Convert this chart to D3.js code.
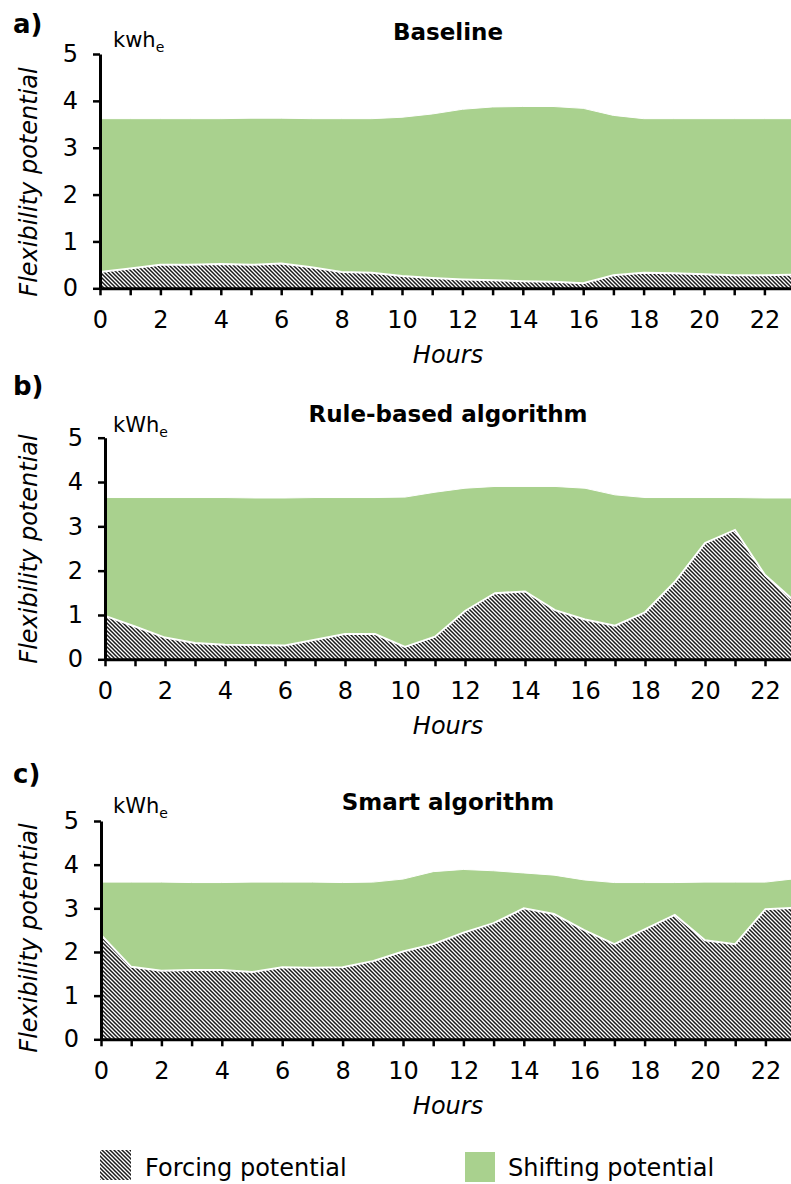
<!DOCTYPE html>
<html>
<head>
<meta charset="utf-8">
<script src="https://cdn.jsdelivr.net/npm/d3@7"></script>
<style>
  body { margin: 0; background: #fff; }
  svg { display: block; font-family: "DejaVu Sans", Verdana, sans-serif; }
  .axis path, .axis line { stroke: #000; }
  .axis path { stroke-width: 3; }
  .axis line { stroke-width: 2.5; }
  .axis text { font-size: 24px; fill: #000; font-family: "DejaVu Sans", Verdana, sans-serif; }
</style>
</head>
<body>
<div id="chart"></div>
<script>
// hours of the day (x categories)
var hours = [0,1,2,3,4,5,6,7,8,9,10,11,12,13,14,15,16,17,18,19,20,21,22,23];
var yTicks = [0,1,2,3,4,5];

// baseline
var baselineForcing  = [0.35,0.42,0.50,0.50,0.52,0.50,0.53,0.45,0.35,0.33,0.26,0.22,0.19,0.17,0.15,0.14,0.11,0.28,0.33,0.32,0.30,0.28,0.28,0.29];
var baselineShifting = [3.27,3.20,3.12,3.12,3.10,3.13,3.10,3.17,3.27,3.29,3.39,3.50,3.63,3.70,3.73,3.74,3.73,3.41,3.29,3.30,3.32,3.34,3.34,3.33];

// rule-based algorithm
var ruleForcing  = [0.98,0.74,0.49,0.37,0.33,0.32,0.31,0.44,0.57,0.57,0.28,0.51,1.09,1.49,1.53,1.11,0.90,0.76,1.06,1.75,2.62,2.92,1.90,1.30];
var ruleShifting = [2.67,2.91,3.16,3.28,3.32,3.32,3.33,3.21,3.08,3.08,3.38,3.26,2.77,2.41,2.37,2.79,2.96,2.95,2.59,1.90,1.03,0.73,1.74,2.34];

// smart algorithm
var smartForcing  = [2.39,1.66,1.57,1.59,1.59,1.54,1.65,1.64,1.65,1.79,2.01,2.18,2.44,2.66,3.00,2.87,2.50,2.18,2.52,2.85,2.27,2.18,2.98,3.01];
var smartShifting = [1.21,1.94,2.03,2.00,2.00,2.06,1.95,1.96,1.94,1.81,1.66,1.66,1.45,1.20,0.81,0.89,1.15,1.41,1.07,0.74,1.33,1.42,0.62,0.67];

var titles = ["Baseline", "Rule-based algorithm", "Smart algorithm"];
var letters = ["a)", "b)", "c)"];
var units = ["kwh", "kWh", "kWh"];
var legendLabels = ["Forcing potential", "Shifting potential"];

var green = "#a9d18e";

// panel placement in the page
var panels = [
  {forcing: baselineForcing, shifting: baselineShifting, left: 100, step: 30.2, y0: 288.3, y5: 54,
   letterY: 33, unitY: 47, titleY: 40, labelY: 182},
  {forcing: ruleForcing, shifting: ruleShifting, left: 105, step: 30, y0: 659.3, y5: 437.7,
   letterY: 395, unitY: 432, titleY: 422, labelY: 549},
  {forcing: smartForcing, shifting: smartShifting, left: 101, step: 30.2, y0: 1039.3, y5: 821,
   letterY: 783, unitY: 813, titleY: 810, labelY: 938}
];

var svg = d3.select("#chart").append("svg")
    .attr("width", 791)
    .attr("height", 1184);

// hatch pattern for forcing potential
var defs = svg.append("defs");
var pat = defs.append("pattern")
    .attr("id", "hatch")
    .attr("patternUnits", "userSpaceOnUse")
    .attr("width", 4)
    .attr("height", 4);
pat.append("rect").attr("width", 4).attr("height", 4).attr("fill", "#fff");
pat.append("path")
    .attr("d", "M-1,-1L5,5M3,-1L5,1M-1,3L1,5")
    .attr("stroke", "#1a1a1a")
    .attr("stroke-width", 1.5);

panels.forEach(function(p, i) {
  var x = d3.scaleLinear()
      .domain([0, 23])
      .range([p.left, p.left + 23 * p.step]);
  var y = d3.scaleLinear()
      .domain([0, 5])
      .range([p.y0, p.y5]);

  var table = hours.map(function(h, k) {
    return {hour: h, forcing: p.forcing[k], shifting: p.shifting[k]};
  });
  var series = d3.stack().keys(["forcing", "shifting"])(table);

  var area = d3.area()
      .x(function(d) { return x(d.data.hour); })
      .y0(function(d) { return y(d[0]); })
      .y1(function(d) { return y(d[1]); });
  var top = d3.line()
      .x(function(d) { return x(d.data.hour); })
      .y(function(d) { return y(d[1]); });

  var g = svg.append("g");

  g.append("path")
      .datum(series[1])
      .attr("d", area)
      .attr("fill", green);
  g.append("path")
      .datum(series[1])
      .attr("d", top)
      .attr("fill", "none")
      .attr("stroke", "#fff")
      .attr("stroke-width", 1);

  g.append("path")
      .datum(series[0])
      .attr("d", area)
      .attr("fill", "url(#hatch)");
  g.append("path")
      .datum(series[0])
      .attr("d", top)
      .attr("fill", "none")
      .attr("stroke", "#fff")
      .attr("stroke-width", 2);

  // axes
  g.append("g")
      .attr("class", "axis")
      .attr("transform", "translate(0," + p.y0 + ")")
      .call(d3.axisBottom(x)
        .tickValues(hours)
        .tickSize(7)
        .tickSizeOuter(0)
        .tickPadding(16)
        .tickFormat(function(d) { return d % 2 === 0 ? d : ""; }));

  g.append("g")
      .attr("class", "axis")
      .attr("transform", "translate(" + p.left + ",0)")
      .call(d3.axisLeft(y)
        .tickValues(yTicks)
        .tickSize(7)
        .tickSizeOuter(0)
        .tickPadding(15)
        .tickFormat(d3.format("d")));

  // texts
  g.append("text")
      .attr("x", 13)
      .attr("y", p.letterY)
      .attr("font-size", 26)
      .attr("font-weight", "bold")
      .text(letters[i]);

  var u = g.append("text")
      .attr("x", 113)
      .attr("y", p.unitY)
      .attr("font-size", 21)
      .text(units[i]);
  u.append("tspan")
      .attr("dy", 5)
      .attr("font-size", 14)
      .text("e");

  g.append("text")
      .attr("x", 448)
      .attr("y", p.titleY)
      .attr("text-anchor", "middle")
      .attr("font-size", 23)
      .attr("font-weight", "bold")
      .text(titles[i]);

  g.append("text")
      .attr("transform", "translate(37," + p.labelY + ") rotate(-90)")
      .attr("text-anchor", "middle")
      .attr("font-size", 24)
      .attr("font-style", "italic")
      .text("Flexibility potential");

  g.append("text")
      .attr("x", 448)
      .attr("y", p.y0 + 75)
      .attr("text-anchor", "middle")
      .attr("font-size", 24)
      .attr("font-style", "italic")
      .text("Hours");
});

// legend
var legend = svg.append("g");
legend.append("rect")
    .attr("x", 100).attr("y", 1150)
    .attr("width", 31).attr("height", 30)
    .attr("fill", "url(#hatch)");
legend.append("text")
    .attr("x", 145).attr("y", 1176)
    .attr("font-size", 24)
    .text(legendLabels[0]);
legend.append("rect")
    .attr("x", 465).attr("y", 1152)
    .attr("width", 30).attr("height", 30)
    .attr("fill", green);
legend.append("text")
    .attr("x", 508).attr("y", 1176)
    .attr("font-size", 24)
    .text(legendLabels[1]);
</script>
</body>
</html>
